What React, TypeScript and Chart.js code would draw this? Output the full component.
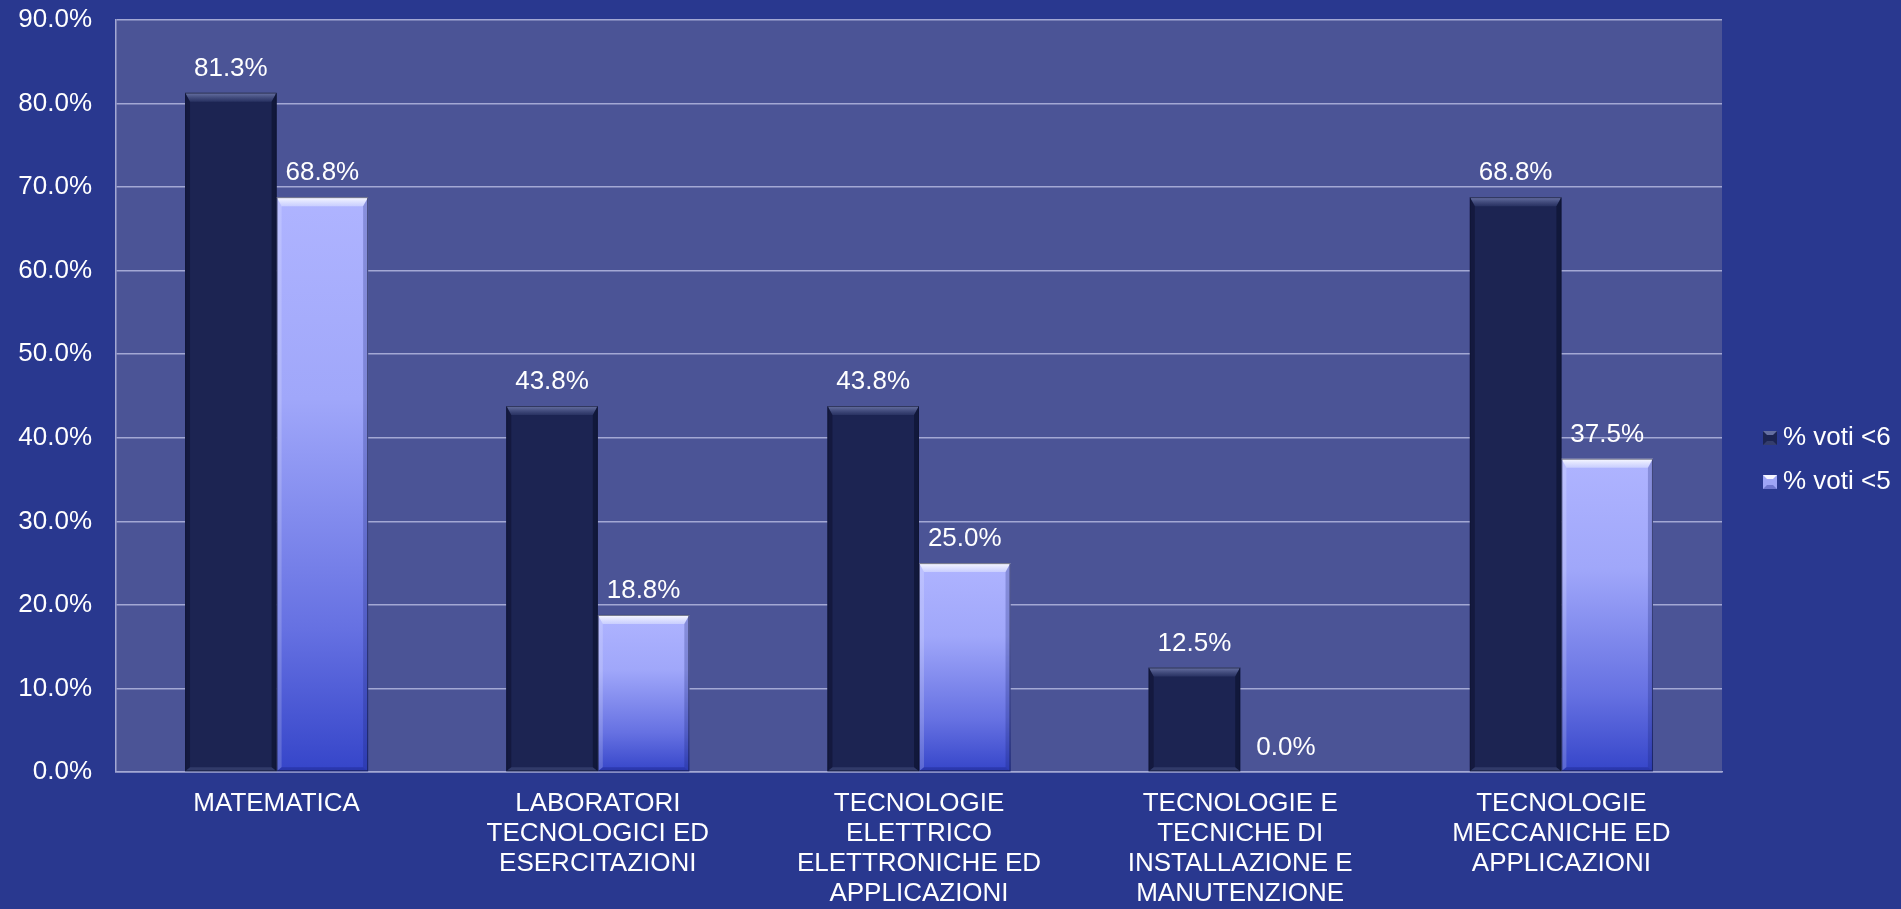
import React, { useEffect, useRef } from 'react';
import { Chart, registerables } from 'chart.js';

Chart.register(...registerables);

const categories: (string | string[])[] = [
  'MATEMATICA',
  ['LABORATORI', 'TECNOLOGICI ED', 'ESERCITAZIONI'],
  ['TECNOLOGIE', 'ELETTRICO', 'ELETTRONICHE ED', 'APPLICAZIONI'],
  ['TECNOLOGIE E', 'TECNICHE DI', 'INSTALLAZIONE E', 'MANUTENZIONE'],
  ['TECNOLOGIE', 'MECCANICHE ED', 'APPLICAZIONI'],
];
const seriesLabels = ['% voti <6', '% voti <5'];
const votiSotto6 = [81.3, 43.8, 43.8, 12.5, 68.8];
const votiSotto5 = [68.8, 18.8, 25.0, 0.0, 37.5];
const yMin = 0;
const yMax = 90;
const yStep = 10;

const FONT = "'Liberation Sans', Arial, Helvetica, sans-serif";
const W = 1901;
const H = 909;

const DARK = '#1C2452';
const LIGHT = '#9EA5F6';

const fmt = (v: number) => v.toFixed(1) + '%';

const bgPlugin = {
  id: 'bgPlugin',
  beforeDraw(chart: any) {
    const { ctx, chartArea: a, width, height } = chart;
    ctx.save();
    ctx.fillStyle = '#29388F';
    ctx.fillRect(0, 0, width, height);
    ctx.fillStyle = '#4B5496';
    ctx.fillRect(a.left, a.top, a.right - a.left, a.bottom - a.top);
    ctx.restore();
  },
};

function poly(ctx: CanvasRenderingContext2D, pts: number[][], fill: string | CanvasGradient) {
  ctx.beginPath();
  ctx.moveTo(pts[0][0], pts[0][1]);
  for (let i = 1; i < pts.length; i++) ctx.lineTo(pts[i][0], pts[i][1]);
  ctx.closePath();
  ctx.fillStyle = fill;
  ctx.fill();
}

const bevelPlugin = {
  id: 'bevelPlugin',
  afterDatasetsDraw(chart: any) {
    const ctx: CanvasRenderingContext2D = chart.ctx;
    ctx.save();
    chart.data.datasets.forEach((ds: any, di: number) => {
      const meta = chart.getDatasetMeta(di);
      meta.data.forEach((el: any) => {
        const { x, y, base, width } = el.getProps(['x', 'y', 'base', 'width'], true);
        const l = x - width / 2;
        const r = x + width / 2;
        const t = y;
        const b = base;
        if (b - t < 2) return;
        const bt = Math.min(9, (b - t) / 2);
        const bs = Math.min(5, (b - t) / 2);
        const bb = Math.min(4, (b - t) / 2);
        const isDark = di === 0;
        const gTop = ctx.createLinearGradient(0, t, 0, t + bt);
        if (isDark) {
          gTop.addColorStop(0, 'rgba(120,130,180,0.85)');
          gTop.addColorStop(1, 'rgba(50,60,110,0.6)');
        } else {
          gTop.addColorStop(0, 'rgba(255,255,255,0.95)');
          gTop.addColorStop(1, 'rgba(220,225,255,0.6)');
        }
        poly(ctx, [[l, t], [r, t], [r - bs, t + bt], [l + bs, t + bt]], gTop);
        poly(ctx, [[l, t], [l + bs, t + bt], [l + bs, b - bb], [l, b]],
          isDark ? 'rgba(10,14,40,0.45)' : 'rgba(255,255,255,0.18)');
        poly(ctx, [[r, t], [r - bs, t + bt], [r - bs, b - bb], [r, b]],
          isDark ? 'rgba(10,14,40,0.55)' : 'rgba(20,30,110,0.25)');
        poly(ctx, [[l, b], [r, b], [r - bs, b - bb], [l + bs, b - bb]],
          isDark ? 'rgba(90,100,150,0.35)' : 'rgba(20,30,120,0.35)');
        ctx.strokeStyle = 'rgba(15,20,50,0.6)';
        ctx.lineWidth = 1;
        ctx.strokeRect(l + 0.5, t + 0.5, width - 1, b - t - 1);
      });
    });
    ctx.restore();
  },
};

const labelPlugin = {
  id: 'labelPlugin',
  afterDatasetsDraw(chart: any) {
    const ctx: CanvasRenderingContext2D = chart.ctx;
    ctx.save();
    ctx.font = `26px ${FONT}`;
    ctx.fillStyle = '#FFFFFF';
    ctx.textAlign = 'center';
    ctx.textBaseline = 'alphabetic';
    chart.data.datasets.forEach((ds: any, di: number) => {
      const meta = chart.getDatasetMeta(di);
      meta.data.forEach((el: any, i: number) => {
        const { x, y } = el.getProps(['x', 'y'], true);
        ctx.fillText(fmt(ds.data[i]), x, y - 17);
      });
    });
    ctx.restore();
  },
};

const legendPlugin = {
  id: 'legendPlugin',
  afterDraw(chart: any) {
    const ctx: CanvasRenderingContext2D = chart.ctx;
    const a = chart.chartArea;
    const bx = a.right + 41;
    const cy = chart.height / 2 + 5.5;
    const ys = [cy - 22, cy + 22];
    ctx.save();
    ctx.font = `26px ${FONT}`;
    ctx.textAlign = 'left';
    ctx.textBaseline = 'middle';
    chart.data.datasets.forEach((ds: any, di: number) => {
      const y = ys[di];
      const s = 14;
      const top = y - s / 2;
      ctx.fillStyle = di === 0 ? DARK : LIGHT;
      ctx.fillRect(bx, top, s, s);
      const g = 4;
      poly(ctx, [[bx, top], [bx + s, top], [bx + s - g, top + g], [bx + g, top + g]],
        di === 0 ? 'rgba(120,130,180,0.8)' : 'rgba(255,255,255,0.9)');
      poly(ctx, [[bx, top + s], [bx + s, top + s], [bx + s - g, top + s - g], [bx + g, top + s - g]],
        di === 0 ? 'rgba(90,100,150,0.4)' : 'rgba(40,50,150,0.4)');
      ctx.fillStyle = '#FFFFFF';
      ctx.fillText(ds.label, bx + 20, y);
    });
    ctx.restore();
  },
};

function lightGradient(c: any) {
  const chart = c.chart;
  const ys = chart.scales && chart.scales.y;
  if (!ys || c.type !== 'data') return LIGHT;
  const top = ys.getPixelForValue(c.raw as number);
  const bottom = ys.getPixelForValue(0);
  if (!isFinite(top) || !isFinite(bottom) || bottom - top < 1) return LIGHT;
  const g = chart.ctx.createLinearGradient(0, top, 0, bottom);
  g.addColorStop(0, '#AFB4FF');
  g.addColorStop(0.35, '#A0A7FA');
  g.addColorStop(0.75, '#6671E2');
  g.addColorStop(1, '#3545C9');
  return g;
}

export default function App() {
  const ref = useRef<HTMLCanvasElement>(null);

  useEffect(() => {
    if (!ref.current) return;
    const chart = new Chart(ref.current, {
      type: 'bar',
      data: {
        labels: categories,
        datasets: [
          {
            label: seriesLabels[0],
            data: votiSotto6,
            backgroundColor: DARK,
            borderWidth: 0,
            barPercentage: 1,
            categoryPercentage: 0.57,
          },
          {
            label: seriesLabels[1],
            data: votiSotto5,
            backgroundColor: lightGradient as any,
            borderWidth: 0,
            barPercentage: 1,
            categoryPercentage: 0.57,
          },
        ],
      },
      options: {
        responsive: false,
        animation: false,
        events: [],
        layout: { padding: { top: 0, right: 179, bottom: 0, left: 0 } },
        plugins: {
          legend: { display: false },
          tooltip: { enabled: false },
          title: { display: false },
        },
        scales: {
          x: {
            grid: { display: false, drawTicks: false },
            border: { display: true, color: '#A3A8D4', width: 1.5 },
            ticks: {
              color: '#FFFFFF',
              font: { family: FONT, size: 26, lineHeight: 1.15 },
              padding: 17,
              maxRotation: 0,
              minRotation: 0,
              autoSkip: false,
            },
            afterFit: (s: any) => {
              s.height = 137;
            },
          },
          y: {
            min: yMin,
            max: yMax,
            grid: { color: '#A3A8D4', lineWidth: 1.5, drawTicks: false },
            border: { display: true, color: '#A3A8D4', width: 1.5 },
            ticks: {
              stepSize: yStep,
              color: '#FFFFFF',
              font: { family: FONT, size: 26 },
              padding: 24,
              callback: (v: any) => fmt(Number(v)),
            },
            afterFit: (s: any) => {
              s.width = 116;
              s.paddingTop = 20;
              s.paddingBottom = 0;
            },
          },
        },
      },
      plugins: [bgPlugin, bevelPlugin, labelPlugin, legendPlugin],
    });
    return () => chart.destroy();
  }, []);

  return (
    <div style={{ position: 'fixed', left: 0, top: 0, width: W, height: H, background: '#29388F' }}>
      <canvas ref={ref} width={W} height={H} style={{ display: 'block', width: W, height: H }} />
    </div>
  );
}
